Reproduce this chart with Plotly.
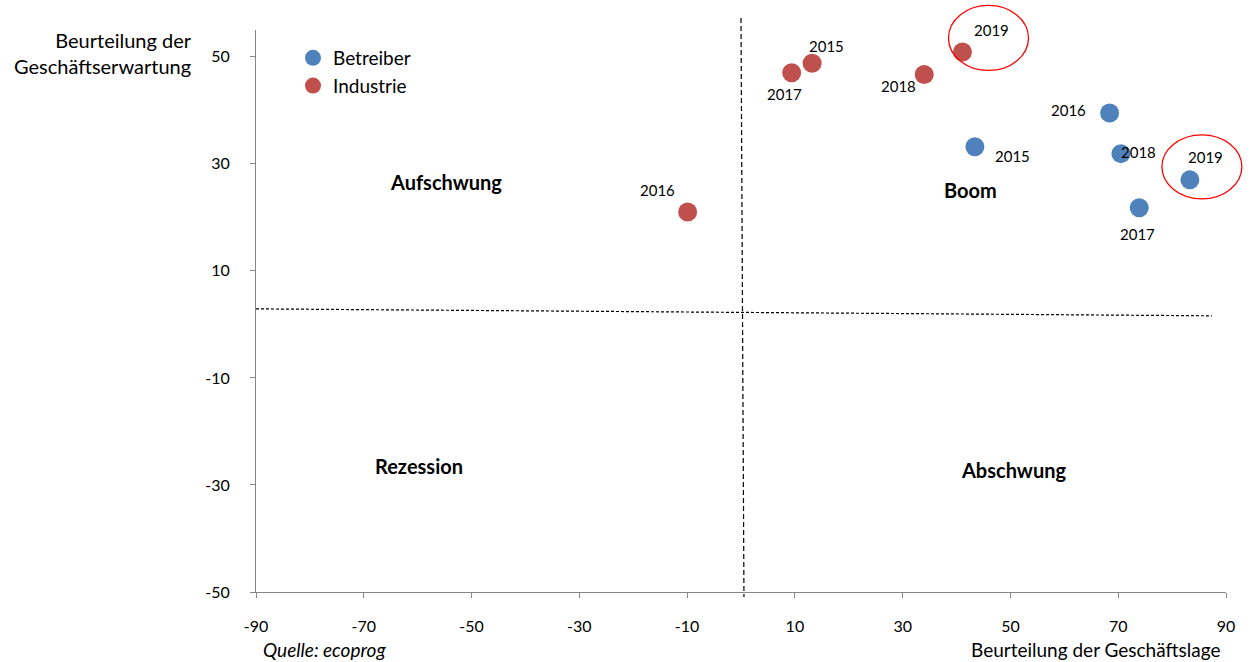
import plotly.graph_objects as go

# ---------------- data ----------------
years = ["2015", "2016", "2017", "2018", "2019"]
betreiber_x = [43.4, 68.4, 73.9, 70.5, 83.3]
betreiber_y = [33.2, 39.5, 21.8, 31.9, 27.0]
industrie_x = [13.2, -9.9, 9.4, 34.0, 41.1]
industrie_y = [48.8, 21.0, 47.0, 46.7, 50.9]

quadrant_names = ["Aufschwung", "Boom", "Rezession", "Abschwung"]
quadrant_x = [-54.7, 42.5, -59.8, 50.5]
quadrant_y = [26.6, 25.1, -26.4, -27.2]

x_ticks = [-90, -70, -50, -30, -10, 10, 30, 50, 70, 90]
x_tick_labels = ["-90", "-70", "-50", "-30", "-10", "10", "30", "50", "70", "90"]
y_ticks = [-50, -30, -10, 10, 30, 50]
y_tick_labels = ["-50", "-30", "-10", "10", "30", "50"]

# threshold lines (as drawn, slightly slanted)
h_line_x = [-90, 87.4]
h_line_y = [2.9, 1.6]
v_line_x = [0.0, 0.55]

# ---------------- styles / layout constants ----------------
W, H = 1251, 662
ML, MR, MT, MB = 256, 25, 30, 70
PW, PH = W - ML - MR, H - MT - MB
XR = [-90, 90]
YR = [-50, 55]
BLUE = "#4F81BD"
RED = "#C0504D"
FONT = "Lato, 'Open Sans', sans-serif"

# label pixel offsets (dx right, dy up) for each year
betreiber_off = [(38, -9), (-41, 3), (-2, -26), (18, 2), (16, 23)]
industrie_off = [(14, 17), (-30, 22), (-7, -21), (-26, -12), (29, 22)]


def xp(v):
    return (v - XR[0]) / (XR[1] - XR[0])


def yp(v):
    return (v - YR[0]) / (YR[1] - YR[0])


fig = go.Figure()
fig.add_trace(go.Scatter(x=betreiber_x, y=betreiber_y, mode="markers", name="Betreiber",
                         marker=dict(color=BLUE, size=19), cliponaxis=False))
fig.add_trace(go.Scatter(x=industrie_x, y=industrie_y, mode="markers", name="Industrie",
                         marker=dict(color=RED, size=19), cliponaxis=False))

ann = []
for xs, ys, offs in [(betreiber_x, betreiber_y, betreiber_off), (industrie_x, industrie_y, industrie_off)]:
    for yr, x, y, (dx, dy) in zip(years, xs, ys, offs):
        ann.append(dict(x=x, y=y, xref="x", yref="y", text=yr, showarrow=False,
                        xshift=dx, yshift=dy, font=dict(family=FONT, size=15, color="black")))

for name, x, y in zip(quadrant_names, quadrant_x, quadrant_y):
    ann.append(dict(x=x, y=y, xref="x", yref="y", text="<b>%s</b>" % name, showarrow=False,
                    font=dict(family=FONT, size=20, color="black")))

# axis titles & source
ann.append(dict(x=(194 - ML) / PW, y=(H - MB - 53) / PH, xref="paper", yref="paper",
                text="Beurteilung der<br>Geschäftserwartung", showarrow=False, align="right",
                xanchor="right", yanchor="middle", font=dict(family=FONT, size=20, color="black")))
ann.append(dict(x=(1222 - ML) / PW, y=(H - MB - 649) / PH, xref="paper", yref="paper",
                text="Beurteilung der Geschäftslage", showarrow=False, xanchor="right", yanchor="middle",
                font=dict(family=FONT, size=19, color="black")))
ann.append(dict(x=(261 - ML) / PW, y=(H - MB - 649) / PH, xref="paper", yref="paper",
                text="<i>Quelle: ecoprog</i>", showarrow=False, xanchor="left", yanchor="middle",
                font=dict(family=FONT, size=19, color="black")))

shapes = []
# dashed threshold lines
shapes.append(dict(type="line", xref="x", yref="y", x0=h_line_x[0], x1=h_line_x[1],
                   y0=h_line_y[0], y1=h_line_y[1], line=dict(color="black", width=1.2, dash="3px,2px")))
shapes.append(dict(type="line", xref="paper", yref="paper", x0=xp(v_line_x[0]), x1=xp(v_line_x[1]),
                   y0=1 + 12 / PH, y1=-5 / PH, line=dict(color="black", width=1.2, dash="5px,3px")))

# red highlight ellipses around 2019 points (pixel offset from point center)
for x, y, (cx, cy, w, h) in [(industrie_x[4], industrie_y[4], (26, 14, 80, 65)),
                             (betreiber_x[4], betreiber_y[4], (12, 13, 80, 64))]:
    px = xp(x) + cx / PW
    py = yp(y) + cy / PH
    shapes.append(dict(type="circle", xref="paper", yref="paper",
                       x0=px - w / 2 / PW, x1=px + w / 2 / PW,
                       y0=py - h / 2 / PH, y1=py + h / 2 / PH,
                       line=dict(color="#FF0000", width=1.3)))

axis_common = dict(showline=True, linecolor="#868686", linewidth=1, ticks="outside", ticklen=5,
                   tickcolor="#868686", showgrid=False, zeroline=False,
                   tickfont=dict(family=FONT, size=16, color="black"))

fig.update_layout(
    width=W, height=H,
    margin=dict(l=ML, r=MR, t=MT, b=MB),
    plot_bgcolor="white", paper_bgcolor="white",
    xaxis=dict(range=XR, tickvals=x_ticks, ticktext=x_tick_labels, ticklabelstandoff=15, **axis_common),
    yaxis=dict(range=YR, tickvals=y_ticks, ticktext=y_tick_labels, ticklabelstandoff=17, **axis_common),
    legend=dict(x=(293 - ML) / PW, y=(H - MB - 39) / PH, xanchor="left", yanchor="top",
                font=dict(family=FONT, size=19, color="black"), bgcolor="rgba(0,0,0,0)"),
    annotations=ann,
    shapes=shapes,
    showlegend=True,
)

fig.write_html("out.html")
